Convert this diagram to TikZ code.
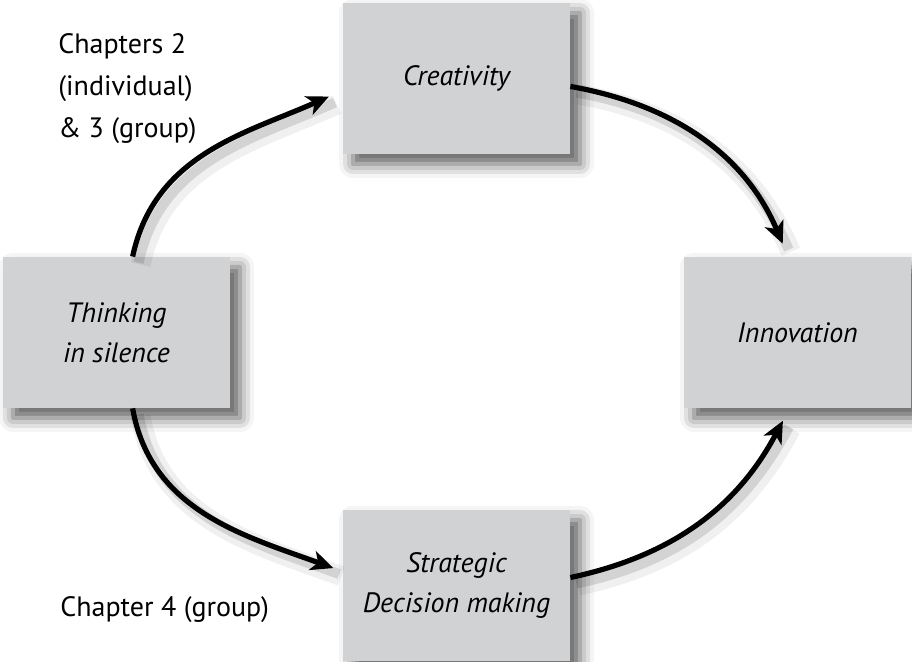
\documentclass[tikz,border=0pt]{standalone}
\usepackage{fontspec}
\setmainfont{PT Sans}
\usetikzlibrary{arrows.meta,shadows.blur}

\definecolor{boxgray}{HTML}{D1D2D4}

\begin{document}
\begin{tikzpicture}[x=0.5pt,y=0.5pt,
		stage/.style={fill=boxgray, minimum width=113.5pt, minimum height=75.5pt, inner sep=0pt, align=center,
			font=\fontsize{14}{20}\selectfont\itshape,
			blur shadow={shadow xshift=5pt, shadow yshift=-5pt, shadow blur radius=7pt, shadow opacity=65}},
		flow/.style={line width=2.6pt, -{Stealth[length=11pt,width=10pt,inset=3pt]},
			preaction={draw=black, arrows=-, opacity=0.06, line width=10pt, transform canvas={shift={(4pt,-4pt)}}},
			preaction={draw=black, arrows=-, opacity=0.12, line width=5pt, transform canvas={shift={(3pt,-3pt)}}}},
		note/.style={align=left, inner sep=0pt, font=\fontsize{14}{21}\selectfont}]
		\useasboundingbox (0,0) rectangle (912,662);
		
		\node [stage] (think) at (116.5,329.5) {Thinking\\in silence};
		\node [stage] (creat) at (456.5,583.5) {Creativity};
		\node [stage] (innov) at (797.5,329.5) {Innovation};
		\node [stage] (strat) at (456.5,76.5) {Strategic\\Decision making};
		
		\node [note, anchor=north west] (ch23) at (58,629) {Chapters 2\\(individual)\\\& 3 (group)};
		\node [note, anchor=base west] (ch4) at (60,45) {Chapter 4 (group)};
		
		% the cycle
		\draw [flow, shorten >=7.5pt] (think.78) to [out=78, in=204] (creat.186);
		\draw [flow, shorten >=7pt] (creat.356) to [out=-10, in=113] (innov.97);
		\draw [flow, shorten >=5pt] (think.282) to [out=-80, in=160] (strat.173);
		\draw [flow, shorten >=7pt] (strat.4) to [out=12, in=242] (innov.264);
		
\end{tikzpicture}
\end{document}
